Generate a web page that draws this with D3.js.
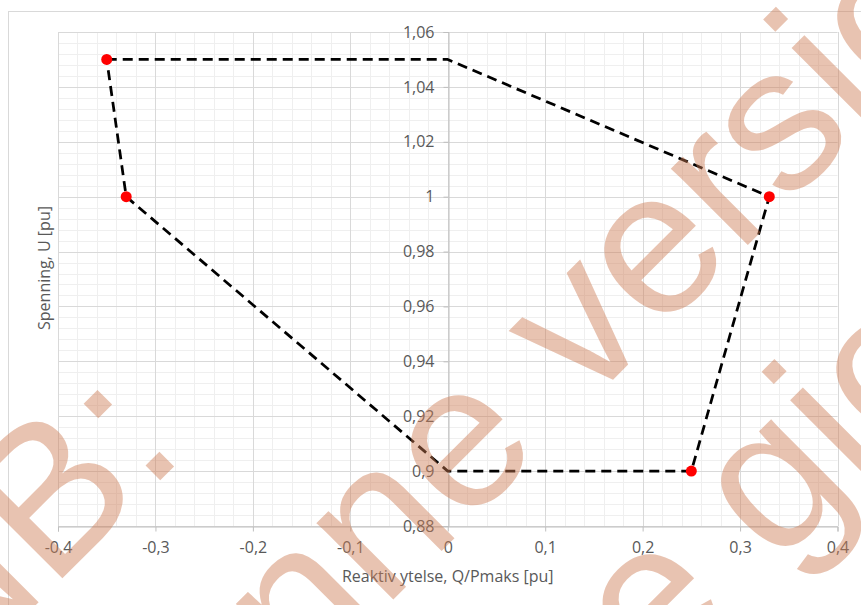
<!DOCTYPE html>
<html>
<head>
<meta charset="utf-8">
<script src="https://cdn.jsdelivr.net/npm/d3@7"></script>
<style>
  html, body { margin: 0; padding: 0; background: #ffffff; }
  svg { display: block; }
</style>
</head>
<body>
<svg id="chart" width="861" height="605"></svg>
<script>
// ---- data ----
const lineQ = [-0.35, 0, 0.33, 0.25, 0, -0.33, -0.35];
const lineU = [1.05, 1.05, 1.0, 0.9, 0.9, 1.0, 1.05];
const markerQ = [-0.35, -0.33, 0.33, 0.25];
const markerU = [1.05, 1.0, 1.0, 0.9];
const xTicks = [-0.4, -0.3, -0.2, -0.1, 0, 0.1, 0.2, 0.3, 0.4];
const yTicks = [0.88, 0.9, 0.92, 0.94, 0.96, 0.98, 1.0, 1.02, 1.04, 1.06];
const xTitle = "Reaktiv ytelse, Q/Pmaks [pu]";
const yTitle = "Spenning, U [pu]";
const watermarkLines = ["NB:", "Denne versjonen", "er ikke gjeldende"];

// ---- layout ----
const svg = d3.select("#chart");
const plot = { left: 58, right: 837.5, top: 32, bottom: 526 };
const x = d3.scaleLinear().domain([-0.4, 0.4]).range([plot.left, plot.right]);
const y = d3.scaleLinear().domain([0.88, 1.06]).range([plot.bottom, plot.top]);
const fmt = v => String(+v.toFixed(2)).replace(".", ",");
const font = "'Open Sans', 'Noto Sans', sans-serif";
const fs = 16;

// chart frame
svg.append("rect").attr("x", 8.5).attr("y", 11.5).attr("width", 900).attr("height", 700)
  .attr("fill", "#fff").attr("stroke", "#d9d9d9").attr("stroke-width", 1);

// minor grid
const xMinor = d3.range(0, 41).map(i => -0.4 + i * 0.02);
const yMinor = d3.range(0, 46).map(i => 0.88 + i * 0.004);
const grid = svg.append("g");
grid.selectAll(".xm").data(xMinor).join("line")
  .attr("x1", d => Math.round(x(d)) + 0.5).attr("x2", d => Math.round(x(d)) + 0.5)
  .attr("y1", plot.top).attr("y2", plot.bottom)
  .attr("stroke", "#efefef").attr("stroke-width", 1);
grid.selectAll(".ym").data(yMinor).join("line")
  .attr("y1", d => Math.round(y(d)) + 0.5).attr("y2", d => Math.round(y(d)) + 0.5)
  .attr("x1", plot.left).attr("x2", plot.right)
  .attr("stroke", "#efefef").attr("stroke-width", 1);
// major grid
grid.selectAll(".xM").data(xTicks).join("line")
  .attr("x1", d => Math.round(x(d)) + 0.5).attr("x2", d => Math.round(x(d)) + 0.5)
  .attr("y1", plot.top).attr("y2", plot.bottom)
  .attr("stroke", "#d9d9d9").attr("stroke-width", 1);
grid.selectAll(".yM").data(yTicks).join("line")
  .attr("y1", d => Math.round(y(d)) + 0.5).attr("y2", d => Math.round(y(d)) + 0.5)
  .attr("x1", plot.left).attr("x2", plot.right)
  .attr("stroke", "#d9d9d9").attr("stroke-width", 1);

// x axis (bottom)
const xAxis = d3.axisBottom(x).tickValues(xTicks).tickFormat(fmt).tickSize(5).tickPadding(10);
const gx = svg.append("g").attr("transform", `translate(0,${Math.round(plot.bottom) + 0.5})`).call(xAxis);
gx.select(".domain").attr("stroke", "#bfbfbf");
gx.selectAll(".tick line").attr("stroke", "#bfbfbf");
gx.selectAll("text").attr("fill", "#595959").attr("font-size", fs).attr("font-family", font);

// y axis (at q = 0)
const yAxis = d3.axisLeft(y).tickValues(yTicks).tickFormat(fmt).tickSize(5).tickPadding(9);
const gy = svg.append("g").attr("transform", `translate(${Math.round(x(0)) + 0.5},0)`).call(yAxis);
gy.select(".domain").attr("stroke", "#bfbfbf");
gy.selectAll(".tick line").attr("stroke", "#bfbfbf");
gy.selectAll("text").attr("fill", "#595959").attr("font-size", fs).attr("font-family", font);

// axis titles
svg.append("text").attr("x", (plot.left + plot.right) / 2).attr("y", 582)
  .attr("text-anchor", "middle").attr("fill", "#595959")
  .attr("font-size", fs).attr("font-family", font).text(xTitle);
svg.append("text").attr("transform", "translate(50,268) rotate(-90)")
  .attr("text-anchor", "middle").attr("fill", "#595959")
  .attr("font-size", fs).attr("font-family", font).text(yTitle);

// dashed line
const pts = lineQ.map((q, i) => [q, lineU[i]]);
svg.append("path").datum(pts)
  .attr("d", d3.line().x(d => x(d[0])).y(d => y(d[1])))
  .attr("fill", "none").attr("stroke", "#000").attr("stroke-width", 2.75)
  .attr("stroke-dasharray", "10,6").attr("stroke-linejoin", "round");

// markers
svg.append("g").selectAll("circle").data(markerQ.map((q, i) => [q, markerU[i]])).join("circle")
  .attr("cx", d => x(d[0])).attr("cy", d => y(d[1])).attr("r", 5.5)
  .attr("fill", "#ff0000");

// watermark
const wm = svg.append("g").attr("transform", "rotate(-45)")
  .attr("fill", "rgb(206,124,84)").attr("opacity", 0.45)
  .attr("font-family", "'Liberation Sans', Arial, sans-serif").attr("font-size", 205).attr("font-weight", 400);
wm.append("text").attr("x", -188).attr("y", 453).attr("text-anchor", "end").text(watermarkLines[0]);
const t2 = wm.append("text").attr("y", 702).text(watermarkLines[1]);
t2.attr("x", 125 - t2.node().getSubStringLength(0, 6));
const t3 = wm.append("text").attr("y", 950).text(watermarkLines[2]);
t3.attr("x", 148 - t3.node().getSubStringLength(0, 8));
</script>
</body>
</html>
